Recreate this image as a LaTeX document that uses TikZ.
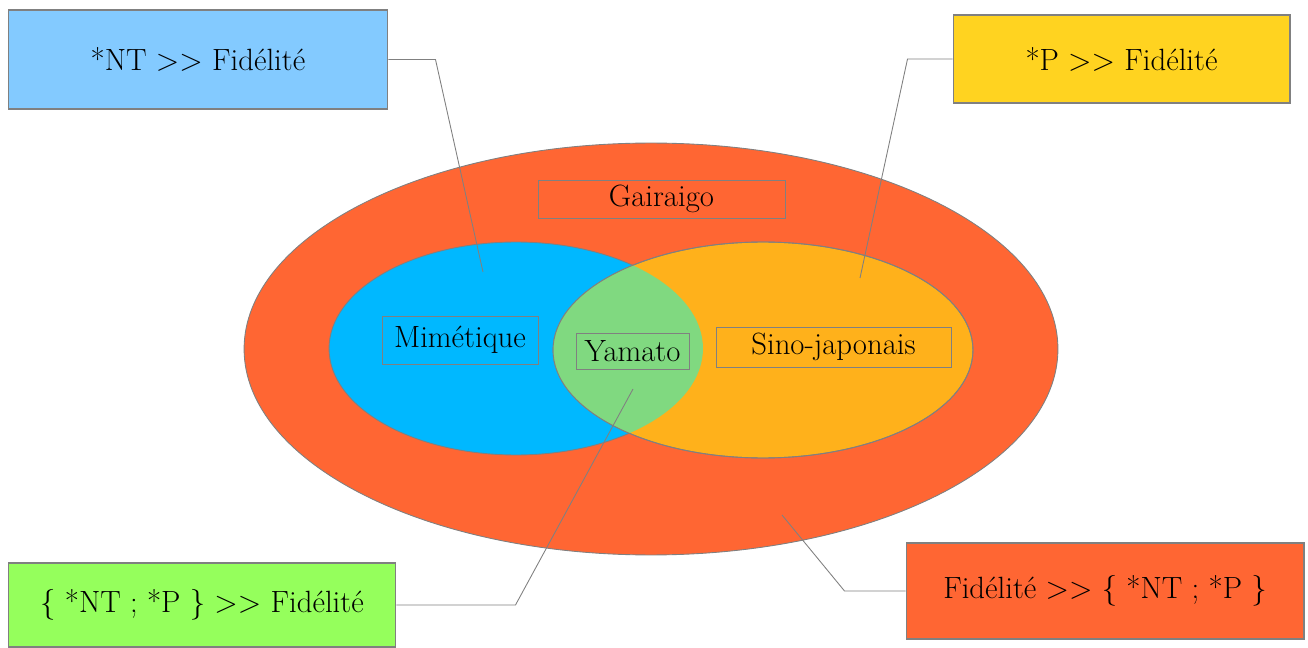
\documentclass[tikz,border=0pt]{standalone}
\usepackage{fontspec}

\definecolor{gairaigo}{HTML}{FF6633}
\definecolor{mimetique}{HTML}{00B8FF}
\definecolor{sino}{HTML}{FFB11B}
\definecolor{yamato}{HTML}{80D980}
\definecolor{ntblue}{HTML}{83CAFF}
\definecolor{pyellow}{HTML}{FFD320}
\definecolor{ntpgreen}{HTML}{95FF5C}
\definecolor{edge}{HTML}{808080}

\begin{document}
\begin{tikzpicture}[
		x=0.02cm, y=-0.02cm,
		every node/.style={font=\rmfamily\fontsize{17.5}{21}\selectfont, inner sep=0pt, rectangle},
		rulebox/.style={draw=edge, line width=0.6pt},
		tag/.style={draw=edge, line width=0.5pt},
		link/.style={draw=edge, line width=0.5pt}
		]
		
		\useasboundingbox (0,0) rectangle (1308,648);
		
		% sets
		\draw[edge, line width=0.5pt, fill=gairaigo] (651,349) ellipse [x radius=8.14cm, y radius=4.12cm];
		\draw[edge, line width=0.5pt, fill=mimetique] (516,348.5) ellipse [x radius=3.74cm, y radius=2.13cm];
		\draw[edge, line width=0.5pt, fill=sino] (763,350) ellipse [x radius=4.2cm, y radius=2.16cm];
		\begin{scope}
			\clip (763,350) ellipse [x radius=4.2cm, y radius=2.16cm];
			\fill[yamato] (516,348.5) ellipse [x radius=3.74cm, y radius=2.13cm];
		\end{scope}
		\draw[edge, line width=0.5pt] (763,350) ellipse [x radius=4.2cm, y radius=2.16cm];
		
		\node[tag, minimum width=4.94cm, minimum height=0.76cm] (gairaigo) at (661.5,199) {Gairaigo};
		\node[tag, minimum width=3.12cm, minimum height=0.96cm] (mimetique) at (460,340) {Mimétique};
		\node[tag, minimum width=2.26cm, minimum height=0.72cm] (yamato) at (632.5,351) {Yamato};
		\node[tag, minimum width=4.7cm, minimum height=0.8cm] (sino) at (833.5,347) {Sino-japonais};
		
		% rankings
		\node[rulebox, fill=ntblue, minimum width=7.6cm, minimum height=1.98cm] (nt) at (198,59.5) {*NT >{}> Fidélité};
		\node[rulebox, fill=pyellow, minimum width=6.74cm, minimum height=1.76cm] (p) at (1121.5,59) {*P >{}> Fidélité};
		\node[rulebox, fill=ntpgreen, minimum width=7.76cm, minimum height=1.68cm] (ntp) at (202,605) {\{ *NT ; *P \} >{}> Fidélité};
		\node[rulebox, fill=gairaigo, minimum width=7.96cm, minimum height=1.92cm] (fid) at (1105,591) {Fidélité >{}> \{ *NT ; *P \}};
		
		\coordinate (inmim) at (483,272);
		\coordinate (insino) at (860,278);
		\coordinate (inyam) at (633,389);
		\coordinate (ingai) at (782,515);
		
		\draw[link] (nt.east) -- ++(47,0) -- (inmim);
		\draw[link] (p.west) -- ++(-45,0) -- (insino);
		\draw[link] (ntp.east) -- ++(119,0) -- (inyam);
		\draw[link] (fid.west) -- ++(-61,0) -- (ingai);
		
	\end{tikzpicture}
\end{document}
